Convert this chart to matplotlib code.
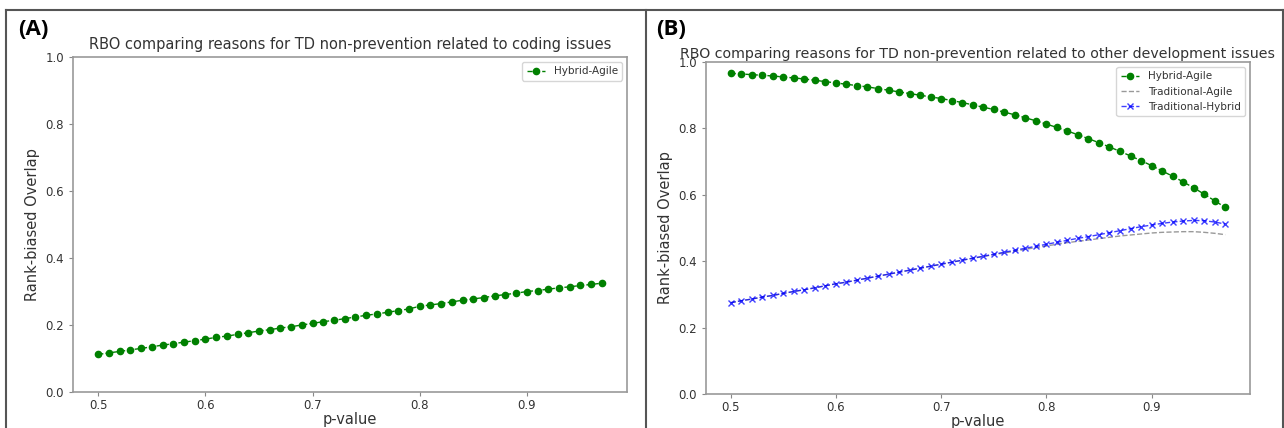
import numpy as np
import matplotlib
matplotlib.use("Agg")
from matplotlib import pyplot as plt
from matplotlib.lines import Line2D

p_values = [round(0.50 + 0.01 * i, 2) for i in range(48)]

# (A) coding issues
coding_hybrid_agile = [
    0.112, 0.117, 0.121, 0.126, 0.130, 0.135, 0.140, 0.144, 0.149, 0.153,
    0.158, 0.163, 0.167, 0.172, 0.177, 0.182, 0.186, 0.191, 0.195, 0.200,
    0.205, 0.210, 0.214, 0.219, 0.224, 0.229, 0.233, 0.238, 0.243, 0.248,
    0.256, 0.260, 0.264, 0.269, 0.274, 0.278, 0.282, 0.287, 0.291, 0.295,
    0.300, 0.303, 0.307, 0.311, 0.314, 0.318, 0.321, 0.325,
]

# (B) other development issues
other_hybrid_agile = [
    0.966, 0.964, 0.962, 0.960, 0.958, 0.955, 0.952, 0.949, 0.945, 0.941,
    0.937, 0.933, 0.929, 0.925, 0.920, 0.915, 0.910, 0.905, 0.900, 0.895,
    0.890, 0.884, 0.878, 0.871, 0.864, 0.857, 0.849, 0.841, 0.832, 0.823,
    0.813, 0.803, 0.792, 0.781, 0.769, 0.757, 0.744, 0.731, 0.717, 0.703,
    0.688, 0.672, 0.656, 0.639, 0.621, 0.602, 0.582, 0.562,
]
other_traditional_agile = [
    0.275, 0.281, 0.286, 0.292, 0.297, 0.303, 0.309, 0.314, 0.320, 0.326,
    0.332, 0.337, 0.343, 0.349, 0.355, 0.361, 0.367, 0.373, 0.379, 0.385,
    0.391, 0.397, 0.403, 0.409, 0.414, 0.420, 0.425, 0.430, 0.436, 0.441,
    0.446, 0.451, 0.456, 0.460, 0.464, 0.468, 0.472, 0.476, 0.479, 0.482,
    0.485, 0.487, 0.488, 0.489, 0.489, 0.487, 0.484, 0.480,
]
other_traditional_hybrid = [
    0.275, 0.281, 0.286, 0.292, 0.297, 0.303, 0.309, 0.314, 0.320, 0.326,
    0.332, 0.337, 0.343, 0.349, 0.355, 0.361, 0.367, 0.373, 0.379, 0.385,
    0.391, 0.397, 0.403, 0.409, 0.415, 0.421, 0.427, 0.433, 0.439, 0.445,
    0.451, 0.457, 0.463, 0.469, 0.474, 0.480, 0.486, 0.492, 0.498, 0.504,
    0.509, 0.514, 0.518, 0.521, 0.523, 0.522, 0.518, 0.512,
]

fig = plt.figure(figsize=(12.84, 4.28), dpi=100)
ax_a = fig.add_axes([0.0569, 0.0841, 0.4315, 0.7827])
ax_b = fig.add_axes([0.5498, 0.0794, 0.4237, 0.7757])


def style_axes(ax, title, pad, title_size):
    ax.set_ylim(0, 1.0)
    ax.set_title(title, fontsize=title_size, color="#333333", pad=pad)
    ax.set_xlabel("p-value", fontsize=10.5, color="#333333", labelpad=0)
    ax.set_ylabel("Rank-biased Overlap", fontsize=10.5, color="#333333")
    ax.set_xticks([0.5, 0.6, 0.7, 0.8, 0.9])
    ax.set_yticks([0.0, 0.2, 0.4, 0.6, 0.8, 1.0])
    ax.tick_params(labelsize=8.5, colors="#333333", length=3, color="#888888")
    ax.tick_params(axis="x", pad=2)
    for s in ax.spines.values():
        s.set_color("#999999")
        s.set_linewidth(1.2)
    ax.legend(loc="upper right", fontsize=7.5, labelcolor="#333333",
              handlelength=1.8)


ax_a.plot(p_values, coding_hybrid_agile, "g--", marker="o", markersize=4.5,
          linewidth=1, label="Hybrid-Agile")
style_axes(ax_a, "RBO comparing reasons for TD non-prevention related to coding issues",
           6, 10.5)

ax_b.plot(p_values, other_hybrid_agile, "g--", marker="o", markersize=4.5,
          linewidth=1, label="Hybrid-Agile")
ax_b.plot(p_values, other_traditional_agile, "--", color="gray", alpha=0.8,
          linewidth=1, label="Traditional-Agile")
ax_b.plot(p_values, other_traditional_hybrid, "b--", marker="x", markersize=4,
          linewidth=1, alpha=0.75, label="Traditional-Hybrid")
style_axes(ax_b, "RBO comparing reasons for TD non-prevention related to other development issues",
           3, 10.2)

# panel labels
fig.text(0.014, 0.93, "(A)", fontsize=16, fontweight="bold", family="Open Sans",
         va="center")
fig.text(0.511, 0.93, "(B)", fontsize=16, fontweight="bold", family="Open Sans",
         va="center")

# frame around the panels
frame = dict(color="#555555", linewidth=1.5)
fig.add_artist(Line2D([0.005, 0.999], [0.977, 0.977], **frame))
fig.add_artist(Line2D([0.005, 0.005], [0.0, 0.977], **frame))
fig.add_artist(Line2D([0.503, 0.503], [0.0, 0.977], **frame))
fig.add_artist(Line2D([0.999, 0.999], [0.0, 0.977], **frame))

fig.savefig("out.png", dpi=100)
